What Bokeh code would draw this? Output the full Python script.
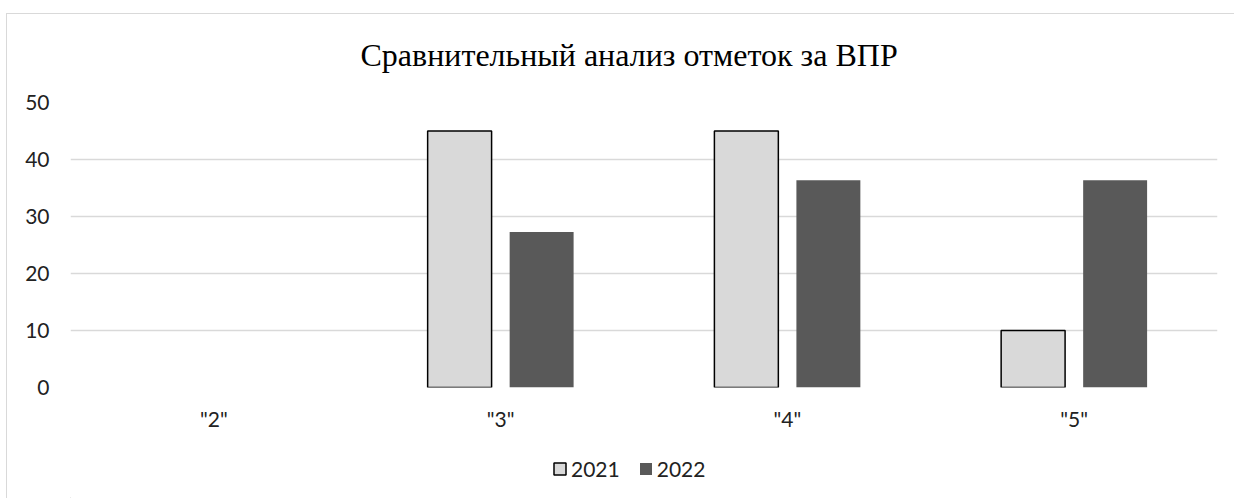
from bokeh.plotting import figure
from bokeh.layouts import column
from bokeh.models import (ColumnDataSource, FactorRange, Legend, LegendItem)
from bokeh.core.properties import value
from bokeh.transform import dodge
from bokeh.embed import file_html
from bokeh.resources import INLINE

categories = ['"2"', '"3"', '"4"', '"5"']
series_2021 = [0, 45, 45, 10]
series_2022 = [0, 27.27, 36.36, 36.36]
series_names = ["2021", "2022"]
title_text = "Сравнительный анализ отметок за ВПР"
y_ticks = [0, 10, 20, 30, 40, 50]

C2021 = "#d9d9d9"
C2022 = "#595959"
GRID = "#d9d9d9"
TXT = "#222222"
W = 1228

# ---- title strip ----
p0 = figure(width=W, height=77, x_range=(0, 1), y_range=(0, 1),
            x_axis_location=None, y_axis_location=None, toolbar_location=None,
            output_backend="svg", min_border=0)
p0.grid.visible = False
p0.outline_line_color = None
p0.styles = {"border-top": "1px solid #d9d9d9", "border-left": "1px solid #d9d9d9"}
p0.text(x=[0.487], y=[0.468], text=[title_text], text_font=value("Liberation Serif"),
        text_font_size="32px", text_align="center", text_baseline="middle",
        text_color="black")

# ---- chart ----
src = ColumnDataSource(dict(cat=categories, a=series_2021, b=series_2022,
                            a_line=[0.0 if v == 0 else 1.0 for v in series_2021]))

p = figure(x_range=FactorRange(*categories), y_range=(0, 50),
           width=W, height=349, output_backend="svg", toolbar_location=None,
           min_border_left=63, min_border_right=18, min_border_top=12, min_border_bottom=52)
p.outline_line_color = None
p.background_fill_color = "white"
p.border_fill_color = "white"
p.styles = {"border-left": "1px solid #d9d9d9"}

r1 = p.vbar(x=dodge("cat", -0.143, range=p.x_range), top="a", width=0.223, source=src,
            fill_color=C2021, line_color="black", line_width=1.5, line_alpha="a_line")
r2 = p.vbar(x=dodge("cat", 0.143, range=p.x_range), top="b", width=0.223, source=src,
            fill_color=C2022, line_color=None)

p.yaxis.ticker = y_ticks
p.xgrid.grid_line_color = None
p.ygrid.grid_line_color = GRID
p.ygrid.grid_line_width = 1.5
for ax in (p.xaxis[0], p.yaxis[0]):
    ax.axis_line_color = None
    ax.major_tick_line_color = None
    ax.minor_tick_line_color = None
    ax.major_label_text_font = "Lato"
    ax.major_label_text_font_size = "21px"
    ax.major_label_text_color = TXT
p.yaxis.major_label_standoff = 15
p.xaxis.major_label_standoff = 12

# ---- legend strip (one off-screen sample per series so the swatches draw) ----
p2 = figure(width=W, height=59, x_range=(0, 1), y_range=(0, 1),
            x_axis_location=None, y_axis_location=None, toolbar_location=None,
            output_backend="svg", min_border=0)
p2.grid.visible = False
p2.outline_line_color = None
p2.styles = {"border-left": "1px solid #d9d9d9"}
d1 = p2.vbar(x=[-10], top=[-10], width=0.1, fill_color=C2021, line_color="black", line_width=1.5)
d2 = p2.vbar(x=[-10], top=[-10], width=0.1, fill_color=C2022, line_color=None)

legend = Legend(items=[LegendItem(label=series_names[0], renderers=[d1]),
                       LegendItem(label=series_names[1], renderers=[d2])],
                orientation="horizontal", location=(482, 17),
                label_text_font="Lato", label_text_font_size="21px",
                label_text_color=TXT, glyph_width=15, glyph_height=15,
                spacing=18, label_standoff=4, border_line_color=None,
                background_fill_alpha=0, margin=0, padding=0)
p2.add_layout(legend, "center")

layout = column(p0, p, p2, spacing=0, margin=(13, 0, 0, 6))

open("out.html", "w").write(file_html(layout, INLINE))
